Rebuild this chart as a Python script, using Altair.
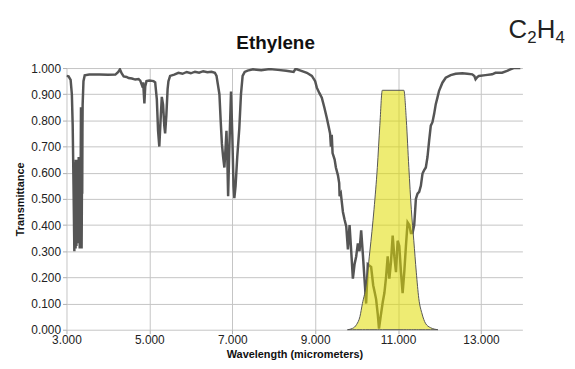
import altair as alt
import pandas as pd

# Ethylene IR spectrum (wavelength in micrometers, transmittance)
spec_wl = [3.00, 3.05, 3.10, 3.13, 3.15, 3.17,
           3.190, 3.195, 3.200, 3.205, 3.210, 3.215, 3.220, 3.225, 3.230, 3.235, 3.240, 3.245, 3.250,
           3.255, 3.260, 3.265, 3.270, 3.275, 3.280, 3.285, 3.290, 3.295, 3.300, 3.305, 3.310, 3.315,
           3.320, 3.325, 3.330, 3.335, 3.340, 3.345, 3.350, 3.355, 3.360, 3.365, 3.370, 3.375, 3.380,
           3.385, 3.39, 3.41, 3.44, 3.55,
           3.80, 4.00, 4.18, 4.25, 4.29, 4.33, 4.38, 4.45, 4.50, 4.58, 4.66, 4.74, 4.78, 4.82, 4.85,
           4.88, 4.90, 4.93, 5.00, 5.10, 5.14, 5.18, 5.21, 5.24, 5.27, 5.30, 5.33, 5.36, 5.38, 5.41,
           5.44, 5.46, 5.50, 5.60, 5.70, 5.80, 5.90, 6.00, 6.10, 6.20, 6.30, 6.40, 6.50, 6.58, 6.62,
           6.65, 6.69, 6.72, 6.75, 6.78, 6.81, 6.84, 6.86, 6.88, 6.90, 6.93, 6.97, 7.00, 7.03, 7.05,
           7.08, 7.12, 7.17, 7.21, 7.25, 7.30, 7.37, 7.50, 7.70, 7.90, 8.10, 8.30, 8.48, 8.52, 8.56,
           8.65, 8.80, 8.92, 9.00, 9.04, 9.10, 9.16, 9.22, 9.28, 9.32, 9.36, 9.38, 9.40, 9.42, 9.47,
           9.50, 9.55, 9.58, 9.59, 9.62, 9.67, 9.71, 9.75, 9.79, 9.83, 9.87, 9.91, 9.95, 9.99, 10.03,
           10.07, 10.11, 10.15, 10.19, 10.23, 10.27, 10.31, 10.35, 10.40, 10.44, 10.47, 10.51, 10.54, 10.58, 10.63,
           10.67, 10.71, 10.75, 10.79, 10.83, 10.87, 10.91, 10.95, 10.99, 11.03, 11.07, 11.11, 11.15, 11.19, 11.23,
           11.27, 11.31, 11.35, 11.39, 11.43, 11.47, 11.51, 11.55, 11.59, 11.63, 11.67, 11.71, 11.75, 11.79, 11.83,
           11.87, 11.91, 11.95, 11.99, 12.07, 12.15, 12.27, 12.39, 12.55, 12.67, 12.79, 12.84, 12.87, 12.91, 12.95,
           13.11, 13.27, 13.35, 13.51, 13.63, 13.71, 13.79, 13.95]
spec_tr = [0.970, 0.968, 0.955, 0.90, 0.78, 0.55,
           0.30, 0.62, 0.33, 0.64, 0.36, 0.60, 0.31, 0.65, 0.40, 0.63, 0.32, 0.58, 0.45,
           0.64, 0.34, 0.62, 0.38, 0.65, 0.42, 0.60, 0.33, 0.66, 0.48, 0.62, 0.36, 0.57,
           0.31, 0.55, 0.34, 0.62, 0.50, 0.70, 0.85, 0.55, 0.40, 0.31, 0.45, 0.60, 0.52,
           0.75, 0.86, 0.95, 0.972, 0.975,
           0.975, 0.974, 0.975, 0.985, 0.995, 0.980, 0.968, 0.966, 0.962, 0.960, 0.956, 0.958, 0.952, 0.935, 0.945,
           0.865, 0.930, 0.950, 0.952, 0.950, 0.945, 0.88, 0.76, 0.70, 0.80, 0.89, 0.86, 0.78, 0.75, 0.82,
           0.92, 0.95, 0.97, 0.975, 0.982, 0.978, 0.985, 0.980, 0.986, 0.982, 0.988, 0.984, 0.986, 0.982, 0.97,
           0.94, 0.90, 0.80, 0.71, 0.66, 0.62, 0.70, 0.76, 0.66, 0.51, 0.70, 0.91, 0.75, 0.55, 0.503,
           0.55, 0.66, 0.77, 0.90, 0.97, 0.985, 0.990, 0.995, 0.992, 0.996, 0.993, 0.990, 0.985, 0.995, 0.995,
           0.990, 0.982, 0.970, 0.950, 0.925, 0.905, 0.887, 0.85, 0.81, 0.78, 0.75, 0.70, 0.745, 0.675, 0.65,
           0.62, 0.59, 0.56, 0.51, 0.52, 0.45, 0.42, 0.395, 0.307, 0.40, 0.30, 0.195, 0.25, 0.28, 0.33,
           0.30, 0.38, 0.29, 0.195, 0.10, 0.25, 0.245, 0.24, 0.17, 0.14, 0.117, 0.06, 0.004, 0.05, 0.105,
           0.14, 0.20, 0.28, 0.195, 0.26, 0.36, 0.28, 0.22, 0.34, 0.32, 0.22, 0.14, 0.22, 0.32, 0.41,
           0.40, 0.37, 0.37, 0.40, 0.50, 0.52, 0.527, 0.55, 0.597, 0.61, 0.62, 0.66, 0.723, 0.78, 0.793,
           0.824, 0.862, 0.887, 0.913, 0.944, 0.963, 0.973, 0.978, 0.980, 0.978, 0.976, 0.970, 0.957, 0.965, 0.970,
           0.973, 0.976, 0.982, 0.982, 0.989, 0.995, 1.0, 1.0]

# Band-pass filter (yellow)
filt_wl = [9.78, 9.90, 10.00, 10.08, 10.14, 10.22, 10.32, 10.42, 10.50, 10.56, 10.62,
           11.14, 11.20, 11.26, 11.32, 11.38, 11.44, 11.50, 11.58, 11.66, 11.78, 11.96]
filt_tr = [0.0, 0.005, 0.02, 0.05, 0.10, 0.16, 0.30, 0.46, 0.62, 0.78, 0.915,
           0.915, 0.80, 0.62, 0.46, 0.34, 0.22, 0.12, 0.06, 0.025, 0.008, 0.0]

x_ticks = [3, 5, 7, 9, 11, 13]
y_ticks = [0.0, 0.1, 0.2, 0.3, 0.4, 0.5, 0.6, 0.7, 0.8, 0.9, 1.0]

FONT = "Liberation Sans"

spec_df = pd.DataFrame({"wavelength": spec_wl, "transmittance": spec_tr})
filt_df = pd.DataFrame({"wavelength": filt_wl, "transmittance": filt_tr})

x_scale = alt.Scale(domain=[3, 14], nice=False, zero=False)
y_scale = alt.Scale(domain=[0, 1], nice=False, zero=False)

x_axis = alt.Axis(values=x_ticks, tickCount=6, format=".3f", title="Wavelength (micrometers)",
                  labelFlush=False, labelOverlap=False, labelPadding=1,
                  titleX=230, titleY=25, titleAlign="center", titleBaseline="middle")
y_axis = alt.Axis(values=y_ticks, tickCount=11, format=".3f", title="Transmittance",
                  labelOverlap=False, labelPadding=2,
                  titleX=-46, titleY=132, titleAlign="center", titleBaseline="middle")

x_enc = alt.X("wavelength:Q", scale=x_scale, axis=x_axis)
y_enc = alt.Y("transmittance:Q", scale=y_scale, axis=y_axis)

line = alt.Chart(spec_df).mark_line(color="#555555", strokeWidth=2.5, clip=True).encode(
    x=x_enc, y=y_enc
)

area = alt.Chart(filt_df).mark_area(
    color="#e0dc00", fillOpacity=0.55, stroke="#555555", strokeWidth=1, interpolate="monotone"
).encode(x=x_enc, y=y_enc)

title_df = pd.DataFrame({"t": ["Ethylene"]})
title = alt.Chart(title_df).mark_text(
    font=FONT, fontSize=19, fontWeight="bold", color="#111111", align="center", baseline="alphabetic"
).encode(text="t:N", x=alt.value(211), y=alt.value(-19))

formula_parts = [("C", 26, 446, -30), ("2", 17, 465, -25), ("H", 26, 474.5, -30), ("4", 17, 493.3, -25)]
formula_layers = []
for txt, size, px, py in formula_parts:
    formula_layers.append(
        alt.Chart(pd.DataFrame({"t": [txt]})).mark_text(
            font=FONT, fontSize=size, color="#222222", align="left", baseline="alphabetic"
        ).encode(text="t:N", x=alt.value(px), y=alt.value(py))
    )

chart = alt.layer(line, area, title, *formula_layers).properties(
    width=460, height=264,
    padding={"left": 59, "top": 59, "right": 45, "bottom": 32},
    autosize=alt.AutoSizeParams(type="none"),
).configure_view(stroke=None).configure_axis(
    domain=False,
    gridColor="#c4c4c4", gridWidth=1,
    tickColor="#b0b0b0", tickSize=4,
    labelFont=FONT, labelFontSize=12, labelColor="#222222",
    titleFont=FONT, titleFontSize=11, titleFontWeight="bold", titleColor="#111111",
)

chart.save("out.html", embed_options={"renderer": "svg", "actions": False})
